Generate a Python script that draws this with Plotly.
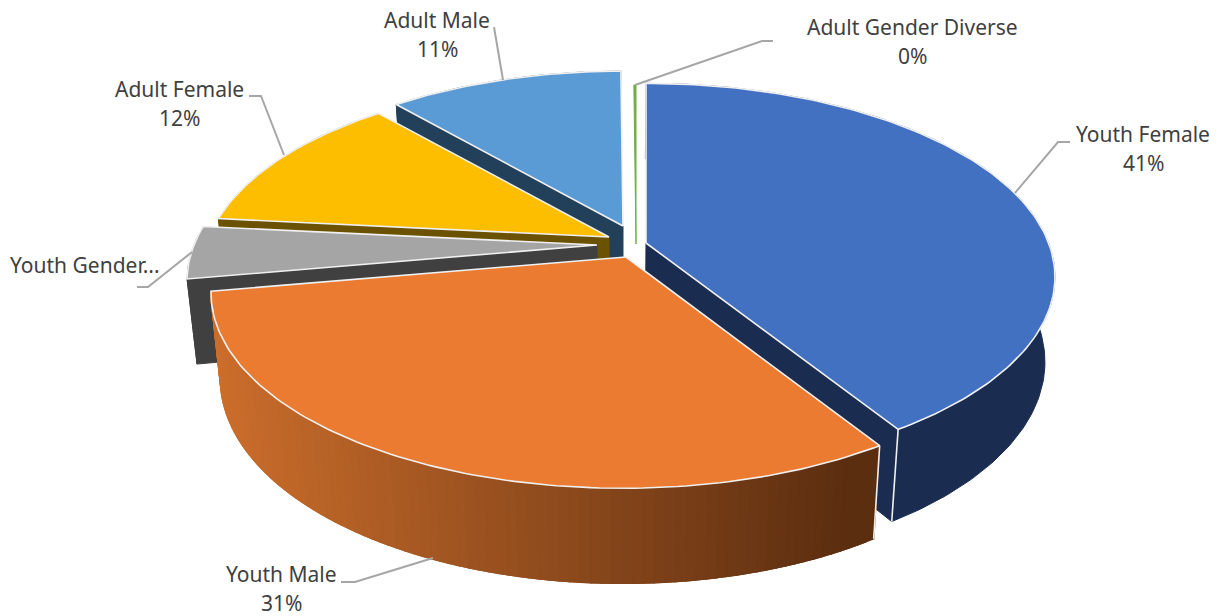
import math
import plotly.graph_objects as go

# ---- data (percent shares, clockwise from 12 o'clock) ----
categories = ["Youth Female", "Youth Male", "Youth Gender Diverse", "Adult Female", "Adult Male", "Adult Gender Diverse"]
values = [41.0, 31.2, 4.4, 12.0, 11.3, 0.1]
label_texts = ["Youth Female", "Youth Male", "Youth Gender...", "Adult Female", "Adult Male", "Adult Gender Diverse"]
show_percent = [True, True, False, True, True, True]

# ---- style / projection ----
top_colors = ["#4371C2", "#EA7B30", "#A5A5A5", "#FDBE00", "#5B9BD5", "#70AD47"]
wall_colors = ["#1A2D50", "#5C2D10", "#404040", "#6B5200", "#23405A", "#2F4A1E"]
tips = [(646, 243), (626, 257), (597, 245), (609, 237), (623, 226), (636, 244)]
centers = [(646, 244), (623, 257), (597, 245), (609, 237), (623, 226), (636, 244)]
scales = [1.0, 1.005, 1.0, 0.992, 0.975, 1.0]
perspective = [0.17, 0.183, 0.183, 0.183, 0.183, 0.183]
A, B = 403.0, 188.0
XC, SHRINK = 620.0, 0.977
EDGE = "#F0F0F0"
leaders = [
    [(1015, 193), (1058, 142), (1070, 142)],
    [(433, 558), (355, 582), (341, 582)],
    [(192, 252), (148, 287), (137, 287)],
    [(284, 155), (261, 96), (249, 96)],
    [(503, 80), (494, 27)],
    [(635, 85), (762, 41), (773, 41)],
]
label_pos = [(1143, 134), (281, 574), (85, 265), (179, 89), (437, 20), (912, 27)]
LINE_GAP = 29
FONT = dict(family="Noto Sans", size=21, color="#404040")


def top(i, deg):
    t = math.radians(deg)
    u, v = math.sin(t), math.cos(t)
    d = 1 + perspective[i] * v
    return (centers[i][0] + scales[i] * A * u / d, centers[i][1] - scales[i] * B * v / d)


def drop(p):
    x, y = p
    return XC + SHRINK * (x - XC), y + 85 + 0.048 * (y - 278)


def arc(i, a0, a1, step=1.0):
    n = max(2, int(abs(a1 - a0) / step) + 1)
    return [top(i, a0 + (a1 - a0) * k / (n - 1)) for k in range(n)]


def poly(fig, pts, fill, line=None, width=1.0, name=None):
    xs = [p[0] for p in pts] + [pts[0][0]]
    ys = [p[1] for p in pts] + [pts[0][1]]
    fig.add_trace(go.Scatter(x=xs, y=ys, mode="lines", fill="toself", fillcolor=fill,
                             line=dict(color=line or fill, width=width),
                             hoverinfo="skip" if name is None else "text", text=name,
                             showlegend=False))


def mix(c0, c1, f):
    a = [int(c0[j:j + 2], 16) for j in (1, 3, 5)]
    b = [int(c1[j:j + 2], 16) for j in (1, 3, 5)]
    return "#%02X%02X%02X" % tuple(round(a[j] + (b[j] - a[j]) * f) for j in range(3))


fig = go.Figure()
total = sum(values)
angles = []
s = 0.0
for v in values:
    angles.append((s * 360 / total, (s + v) * 360 / total))
    s += v

# painter's order: back slices first
order = [5, 4, 3, 2, 0, 1]
for i in order:
    a0, a1 = angles[i]
    if i == 1:
        # gradient wall, painted so each band overlaps the last
        segs = 90
        for k in range(segs, 0, -1):
            b0 = a0 + (a1 - a0) * (k - 1) / segs
            b1 = a0 + (a1 - a0) * k / segs
            p = arc(i, b0, min(a1, b1 + (a1 - a0) / segs), step=(b1 - b0))
            q = [drop(r) for r in p][::-1]
            f = min(1, max(0, (top(i, b0)[0] - 215) / (860 - 215)))
            poly(fig, p + q, mix("#CC6E2C", "#5C2E10", f), width=1.5)
    elif i != 5:
        p = arc(i, a0, a1)
        poly(fig, p + [drop(r) for r in p][::-1], wall_colors[i])
    tip = tips[i]
    if i not in (1, 5):
        e = top(i, a1) if i == 0 else top(i, a0)
        poly(fig, [tip, e, drop(e), drop(tip)], wall_colors[i])
    p = arc(i, a0, a1)
    if i == 5:
        poly(fig, [tip] + p, top_colors[i], width=1.0, name=f"{categories[i]}: {values[i]:.1f}%")
    else:
        poly(fig, [tip] + p, top_colors[i], line=EDGE, width=1.6,
             name=f"{categories[i]}: {values[i]:.1f}%")
    if i in (0, 1):
        e = top(i, a1) if i == 0 else top(i, a0)
        fig.add_trace(go.Scatter(x=[e[0], drop(e)[0]], y=[e[1], drop(e)[1]], mode="lines",
                                 line=dict(color=EDGE, width=1.6), hoverinfo="skip", showlegend=False))

for pts in leaders:
    fig.add_trace(go.Scatter(x=[p[0] for p in pts], y=[p[1] for p in pts], mode="lines",
                             line=dict(color="#A6A6A6", width=2), hoverinfo="skip", showlegend=False))

ann = []
for i, name in enumerate(label_texts):
    x, y = label_pos[i]
    ann.append(dict(x=x, y=y, text=name, showarrow=False, xanchor="center", yanchor="middle", font=FONT))
    if show_percent[i]:
        ann.append(dict(x=x, y=y + LINE_GAP, text=f"{values[i] * 100 / total:.0f}%", showarrow=False,
                        xanchor="center", yanchor="middle", font=FONT))

fig.update_layout(width=1218, height=616, margin=dict(l=0, r=0, t=0, b=0),
                  paper_bgcolor="white", plot_bgcolor="white", showlegend=False, annotations=ann,
                  xaxis=dict(range=[0, 1218], visible=False, fixedrange=True),
                  yaxis=dict(range=[616, 0], visible=False, fixedrange=True))
fig.write_html("out.html", config={"displayModeBar": False},
               post_script="document.body.style.margin='0';document.body.style.overflow='hidden';")
